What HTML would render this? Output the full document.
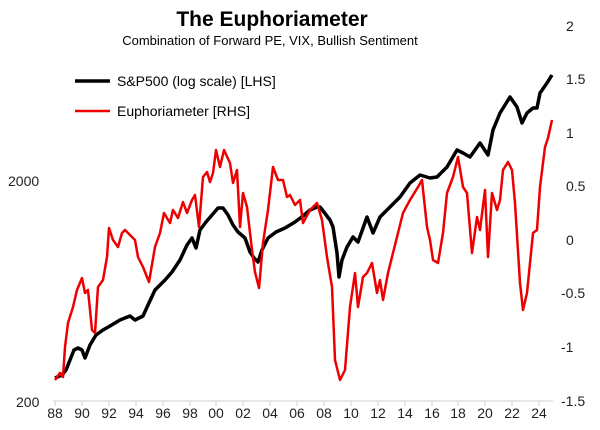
<!DOCTYPE html>
<html><head><style>
html,body{margin:0;padding:0;background:#fff;}
svg{display:block;font-family:"Liberation Sans",Arial,sans-serif;}
</style></head><body>
<svg width="600" height="430" viewBox="0 0 600 430" xmlns="http://www.w3.org/2000/svg">
<text x="272" y="26" text-anchor="middle" font-size="21" font-weight="bold" fill="#000">The Euphoriameter</text>
<text x="270" y="45" text-anchor="middle" font-size="13" fill="#000">Combination of Forward PE, VIX, Bullish Sentiment</text>
<g font-size="14" fill="#222">
<text x="8" y="186">2000</text>
<text x="16" y="407">200</text>
<g text-anchor="start">
<text x="566" y="31">2</text>
<text x="566" y="84">1.5</text>
<text x="566" y="138">1</text>
<text x="566" y="191">0.5</text>
<text x="566" y="245">0</text>
<text x="561" y="298">-0.5</text>
<text x="561" y="352">-1</text>
<text x="561" y="406">-1.5</text>
</g>
<g text-anchor="middle">
<text x="55" y="418">88</text><text x="82" y="418">90</text><text x="109" y="418">92</text><text x="136" y="418">94</text><text x="163" y="418">96</text><text x="190" y="418">98</text><text x="216" y="418">00</text><text x="243" y="418">02</text><text x="270" y="418">04</text><text x="297" y="418">06</text><text x="324" y="418">08</text><text x="351" y="418">10</text><text x="378" y="418">12</text><text x="405" y="418">14</text><text x="432" y="418">16</text><text x="458" y="418">18</text><text x="485" y="418">20</text><text x="512" y="418">22</text><text x="539" y="418">24</text>
</g>
</g>
<g stroke="#d0d0d0" stroke-width="1">
<line x1="53" y1="401" x2="553" y2="401"/>
<path d="M55 401v5M82 401v5M109 401v5M136 401v5M163 401v5M190 401v5M216 401v5M243 401v5M270 401v5M297 401v5M324 401v5M351 401v5M378 401v5M405 401v5M432 401v5M458 401v5M485 401v5M512 401v5M539 401v5"/>
</g>
<polyline fill="none" stroke="#000" stroke-width="3.5" stroke-linejoin="round" points="55,378 62,375 66,370 70,360 74,350 78,348 82,350 85,358 90,345 96,335 103,330 110,326 120,320 130,316 135,320 143,316 148,305 155,290 165,280 172,272 180,260 187,245 192,238 196,248 200,230 206,222 212,215 218,208 223,208 228,215 233,225 238,232 245,238 250,252 254,258 258,262 262,250 268,238 276,232 285,228 295,222 303,216 310,210 317,207 320,207 330,220 333,227 337,253 339,277 342,260 347,247 353,237 358,242 367,217 373,233 380,217 390,207 400,197 410,183 420,175 430,178 437,177 447,167 457,150 463,153 470,157 480,143 488,155 493,130 500,113 510,97 517,107 522,123 527,113 533,108 537,108 540,93 547,83 552,75"/>
<polyline fill="none" stroke="#ee0000" stroke-width="2.5" stroke-linejoin="round" points="55,380 60,373 63,377 65,347 68,323 73,307 77,290 82,278 85,293 88,290 92,330 95,333 98,287 103,280 107,257 109,228 113,240 118,247 122,233 125,230 130,235 135,240 138,257 143,267 149,282 155,247 160,233 164,213 170,223 173,210 178,218 183,202 187,213 192,200 195,195 199,227 203,177 207,172 210,182 213,173 216,150 220,167 224,150 230,163 233,183 237,170 240,227 243,193 247,207 252,250 255,272 259,288 263,243 268,210 273,167 278,180 283,180 287,197 290,195 295,205 300,200 303,223 310,210 317,203 322,220 327,257 332,287 335,360 340,380 345,370 350,307 355,273 358,307 363,277 367,273 372,263 377,293 380,280 383,300 388,273 397,237 403,213 410,200 418,187 422,180 427,227 430,240 433,260 438,263 443,233 447,193 453,177 458,157 463,187 467,193 472,253 477,217 480,230 485,190 488,257 492,193 497,210 500,200 503,170 508,162 512,170 515,203 520,283 523,310 527,293 533,233 537,230 540,187 545,147 548,138 552,120"/>
<line x1="75" y1="81" x2="110" y2="81" stroke="#000" stroke-width="3.5"/>
<text x="117" y="86" font-size="14" fill="#000">S&amp;P500 (log scale) [LHS]</text>
<line x1="75" y1="111" x2="110" y2="111" stroke="#ee0000" stroke-width="2.5"/>
<text x="117" y="116" font-size="14" fill="#000">Euphoriameter [RHS]</text>
</svg>
</body></html>
